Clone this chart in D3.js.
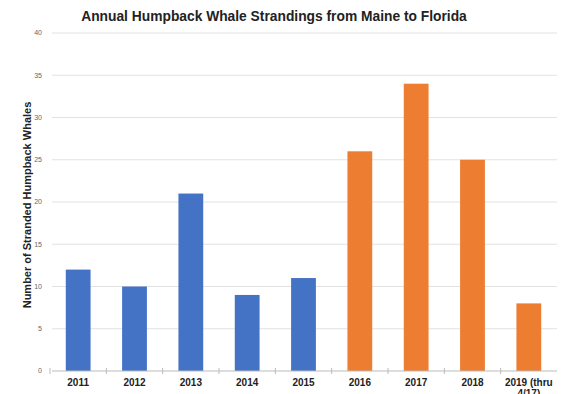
<!DOCTYPE html>
<html>
<head>
<meta charset="utf-8">
<script src="https://cdn.jsdelivr.net/npm/d3@7"></script>
<style>
  body { margin: 0; background: #fff; }
  svg { display: block; font-family: "Liberation Sans", Arial, sans-serif; }
</style>
</head>
<body>
<div id="chart"></div>
<script>
// data
const years = ['2011', '2012', '2013', '2014', '2015', '2016', '2017', '2018', '2019 (thru 4/17)'];
const strandings = [12, 10, 21, 9, 11, 26, 34, 25, 8];
const yTicks = [0, 5, 10, 15, 20, 25, 30, 35, 40];
const blueYears = ['2011', '2012', '2013', '2014', '2015'];

const width = 562, height = 394;
const margin = { top: 33, right: 5, bottom: 23, left: 50 };

const svg = d3.select('#chart').append('svg')
    .attr('width', width)
    .attr('height', height);

const x = d3.scaleBand()
    .domain(years)
    .range([margin.left, width - margin.right])
    .paddingInner(0.56)
    .paddingOuter(0.28);

const y = d3.scaleLinear()
    .domain([0, 40])
    .range([height - margin.bottom, margin.top]);

// gridlines
svg.append('g')
    .selectAll('line')
    .data(yTicks.slice(1))
    .join('line')
        .attr('x1', margin.left + 2)
        .attr('x2', width - margin.right)
        .attr('y1', d => y(d))
        .attr('y2', d => y(d))
        .attr('stroke', '#e2e2e2')
        .attr('stroke-width', 1);

// y axis labels
svg.append('g')
    .selectAll('text')
    .data(yTicks)
    .join('text')
        .attr('x', margin.left - 8)
        .attr('y', d => y(d))
        .attr('dy', '0.35em')
        .attr('text-anchor', 'end')
        .attr('font-size', 7)
        .attr('fill', '#666')
        .text(d => d);

// bars
svg.append('g')
    .selectAll('rect')
    .data(years)
    .join('rect')
        .attr('x', d => x(d))
        .attr('width', x.bandwidth())
        .attr('y', (d, i) => y(strandings[i]))
        .attr('height', (d, i) => y(0) - y(strandings[i]))
        .attr('fill', d => blueYears.includes(d) ? '#4472c4' : '#ed7d31');

// x axis
const xAxis = svg.append('g')
    .attr('transform', `translate(0,${y(0)})`);
xAxis.append('line')
    .attr('x1', margin.left + 2)
    .attr('x2', width - margin.right)
    .attr('stroke', '#bbb');
const step = x.step();
xAxis.selectAll('.tick')
    .data(years)
    .join('line')
        .attr('class', 'tick')
        .attr('x1', d => x(d) + x.bandwidth() / 2 - step / 2)
        .attr('x2', d => x(d) + x.bandwidth() / 2 - step / 2)
        .attr('y1', -3)
        .attr('y2', 3)
        .attr('stroke', '#bbb');

const xLabels = xAxis.selectAll('.xlab')
    .data(years)
    .join('text')
        .attr('class', 'xlab')
        .attr('x', d => x(d) + x.bandwidth() / 2)
        .attr('y', 15)
        .attr('text-anchor', 'middle')
        .attr('font-size', 10)
        .attr('font-weight', 'bold')
        .attr('fill', '#222');
xLabels.each(function(d) {
    const parts = d.includes('(') ? ['2019 (thru', '4/17)'] : [d];
    d3.select(this).selectAll('tspan')
        .data(parts)
        .join('tspan')
            .attr('x', x(d) + x.bandwidth() / 2)
            .attr('dy', (p, i) => i === 0 ? 0 : '1.1em')
            .text(p => p);
});

// title
svg.append('text')
    .attr('x', 274)
    .attr('y', 21)
    .attr('text-anchor', 'middle')
    .attr('font-size', 13.8)
    .attr('font-weight', 'bold')
    .attr('fill', '#222')
    .text('Annual Humpback Whale Strandings from Maine to Florida');

// y title
svg.append('text')
    .attr('transform', `translate(31,${(y(0) + y(40)) / 2 + 3}) rotate(-90)`)
    .attr('text-anchor', 'middle')
    .attr('font-size', 11)
    .attr('font-weight', 'bold')
    .attr('fill', '#222')
    .text('Number of Stranded Humpback Whales');
</script>
</body>
</html>
